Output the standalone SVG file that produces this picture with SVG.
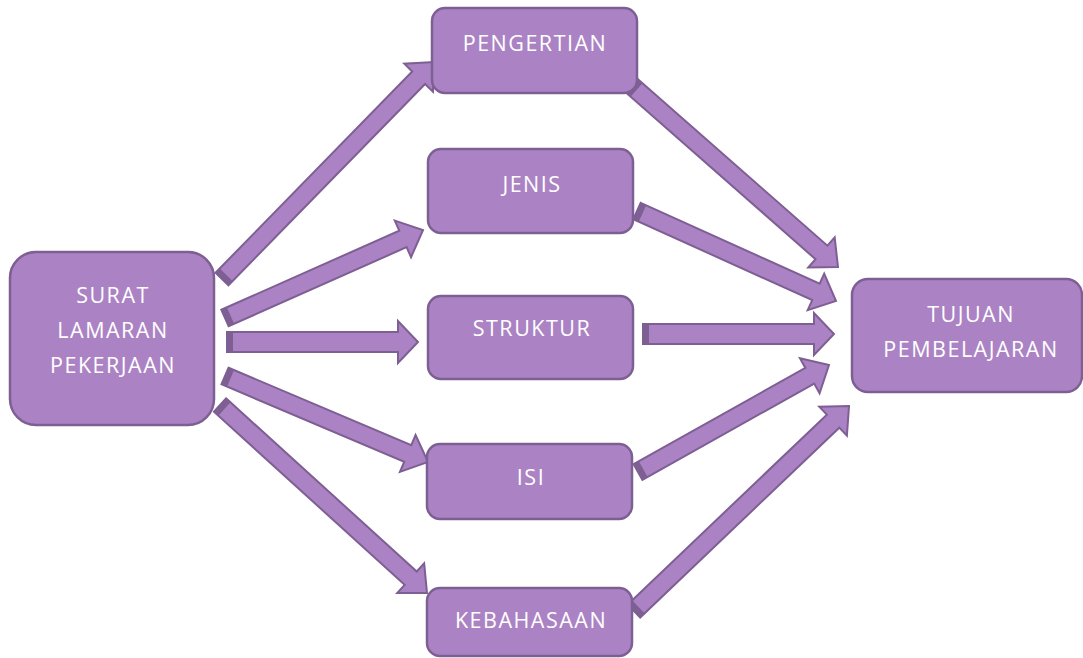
<svg xmlns="http://www.w3.org/2000/svg" width="1083" height="658" viewBox="0 0 1083 658">
<style>
.box{fill:#ab83c4;stroke:#7e5f93;stroke-width:2.5}
.t{fill:#ffffff;font-family:"Open Sans","Liberation Sans",sans-serif;font-size:21.5px;letter-spacing:1.5px;text-anchor:middle}
.arr{fill:#ab83c4;stroke:#7e5f93;stroke-width:2;stroke-linejoin:miter}
.tail{fill:#7e5f93}
</style>
<rect width="1083" height="658" fill="#ffffff"/>
<g id="connectors">
<g transform="translate(222,279) rotate(-45.67)"><path class="arr" d="M0,-9 H281.4 V-20 L303.4,0 L281.4,20 V9 H0 Z"/><rect class="tail" x="0" y="-9" width="6" height="18"/></g>
<g transform="translate(225,318) rotate(-23.96)"><path class="arr" d="M0,-9 H194.7 V-20 L216.7,0 L194.7,20 V9 H0 Z"/><rect class="tail" x="0" y="-9" width="6" height="18"/></g>
<g transform="translate(227,342) rotate(0)"><path class="arr" d="M0,-10 H171 V-21 L191,0 L171,21 V10 H0 Z"/><rect class="tail" x="0" y="-10" width="6" height="20"/></g>
<g transform="translate(225,376) rotate(22.96)"><path class="arr" d="M0,-9 H198.5 V-20 L220.5,0 L198.5,20 V9 H0 Z"/><rect class="tail" x="0" y="-9" width="6" height="18"/></g>
<g transform="translate(220,405) rotate(42.24)"><path class="arr" d="M0,-9 H257.6 V-20 L279.6,0 L257.6,20 V9 H0 Z"/><rect class="tail" x="0" y="-9" width="6" height="18"/></g>
<g transform="translate(632,86) rotate(41.30)"><path class="arr" d="M0,-9 H252.2 V-20 L274.2,0 L252.2,20 V9 H0 Z"/><rect class="tail" x="0" y="-9" width="6" height="18"/></g>
<g transform="translate(637,211) rotate(24.33)"><path class="arr" d="M0,-9 H196.4 V-20 L218.4,0 L196.4,20 V9 H0 Z"/><rect class="tail" x="0" y="-9" width="6" height="18"/></g>
<g transform="translate(643,334) rotate(0)"><path class="arr" d="M0,-10 H171 V-21 L191,0 L171,21 V10 H0 Z"/><rect class="tail" x="0" y="-10" width="6" height="20"/></g>
<g transform="translate(638,472) rotate(-29.26)"><path class="arr" d="M0,-9 H196.9 V-20 L218.9,0 L196.9,20 V9 H0 Z"/><rect class="tail" x="0" y="-9" width="6" height="18"/></g>
<g transform="translate(634,611) rotate(-43.64)"><path class="arr" d="M0,-9 H275.1 V-20 L297.1,0 L275.1,20 V9 H0 Z"/><rect class="tail" x="0" y="-9" width="6" height="18"/></g>
</g>
<g id="surat"><rect class="box" x="10" y="252" width="204" height="173" rx="26"/><text class="t" x="113" y="303">SURAT</text><text class="t" x="113" y="338">LAMARAN</text><text class="t" x="113" y="373">PEKERJAAN</text></g>
<g id="pengertian"><rect class="box" x="432" y="8" width="205" height="85" rx="13"/><text class="t" x="535" y="51">PENGERTIAN</text></g>
<g id="jenis"><rect class="box" x="428" y="149" width="205" height="84" rx="13"/><text class="t" x="532" y="192">JENIS</text></g>
<g id="struktur"><rect class="box" x="428" y="296" width="205" height="83" rx="13"/><text class="t" x="532" y="336">STRUKTUR</text></g>
<g id="isi"><rect class="box" x="427" y="444" width="205" height="75" rx="13"/><text class="t" x="531" y="485">ISI</text></g>
<g id="kebahasaan"><rect class="box" x="427" y="588" width="205" height="68" rx="13"/><text class="t" x="531" y="628">KEBAHASAAN</text></g>
<g id="tujuan"><rect class="box" x="852" y="279" width="230" height="113" rx="16"/><text class="t" x="971" y="322">TUJUAN</text><text class="t" x="971" y="357">PEMBELAJARAN</text></g>
</svg>
